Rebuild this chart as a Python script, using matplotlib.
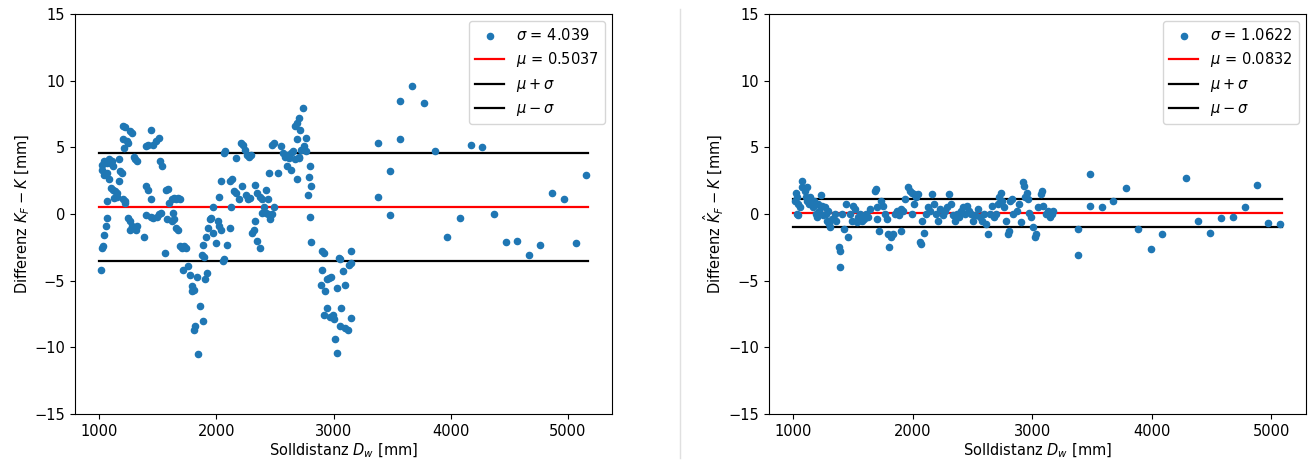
import numpy as np
import matplotlib
matplotlib.use("Agg")
import matplotlib.pyplot as plt
from matplotlib.lines import Line2D

# left panel: K_F - K
x_left = [1014, 1025, 1032, 1039, 1054, 1061, 1068, 1018, 1025, 1043, 1061, 1079, 1090, 1104, 1115,
          1043, 1061, 1079, 1097, 1115, 1132, 1150, 1125, 1150, 1168, 1179, 1193, 1168, 1204, 1215,
          1204, 1211, 1233, 1240, 1204, 1215, 1222, 1240, 1258, 1258, 1276, 1294, 1311, 1319, 1265,
          1276, 1294, 1304, 1319, 1383, 1401, 1419, 1437, 1401, 1437, 1401, 1419, 1455, 1483, 1508,
          1519, 1533, 1444, 1462, 1491, 1508, 1526, 1562, 1573, 1587, 1598, 1580, 1616, 1616, 1634,
          1652, 1670, 1687, 1627, 1641, 1655, 1670, 1687, 1705, 1723, 1741, 1716, 1759, 1777, 1788,
          1795, 1806, 1806, 1820, 1831, 1838, 1856, 1884, 1877, 1895, 1902, 1920, 1884, 1909, 1927,
          1945, 1956, 1967, 1974, 1992, 2010, 2020, 2035, 2020, 2038, 2056, 2063, 2063, 2074, 2092,
          2117, 2128, 2117, 2135, 2153, 2171, 2189, 2207, 2224, 2164, 2214, 2242, 2260, 2278, 2296,
          2250, 2271, 2289, 2307, 2321, 2332, 2350, 2368, 2332, 2350, 2368, 2386, 2404, 2421, 2439,
          2457, 2475, 2493, 2421, 2439, 2386, 2450, 2475, 2493, 2529, 2547, 2565, 2583, 2600, 2618,
          2636, 2654, 2600, 2636, 2672, 2690, 2708, 2690, 2708, 2672, 2690, 2708, 2715, 2736, 2726,
          2744, 2762, 2762, 2779, 2790, 2797, 2808, 2797, 2808, 2898, 2916, 2905, 2894, 2923, 2941,
          2958, 2976, 2916, 2941, 2966, 2994, 3005, 3012, 3030, 3030, 3048, 3059, 3066, 3059, 3084,
          3095, 3102, 3120, 3130, 3145, 3148, 3148,
          3380, 3380, 3480, 3480, 3570, 3570, 3670, 3770, 3870, 3970, 4080, 4170, 4270, 4370, 4470,
          4570, 4670, 4760, 4870, 4970, 5070, 5160]
y_left = [-4.2, -2.55, -2.4, -1.55, -0.9, -0.3, 0.95, 3.3, 3.7, 4.0, 3.8, 4.1, 3.8, 4.0, 3.6,
          2.95, 3.1, 2.6, 1.95, 1.8, 1.7, 1.6, 1.2, 1.3, 2.45, 3.2, 3.1, 4.1, 6.6, 6.5,
          5.6, 4.95, 5.45, 5.3, 1.1, 0.95, 0.8, -0.3, -0.55, -1.2, -0.9, -1.05, -1.2, -0.9, 6.2,
          6.1, 4.3, 4.1, 4.0, -1.75, 2.1, 1.8, 1.1, -0.1, 6.3, 5.1, 5.2, 5.2, 5.45, 5.7,
          3.95, 3.6, -0.2, -0.3, -0.2, 0.0, 0.1, -2.9, 1.8, 1.9, 0.8, -0.4, -0.55, 1.1, 1.2,
          1.1, 1.2, 1.1, 0.1, -0.4, -1.05, -1.2, -2.4, -2.55, -2.4, -2.55, -4.2, -3.9, -4.55, -5.4,
          -5.8, -5.7, -8.7, -8.4, -4.7, -10.5, -6.9, -8.05, -3.05, -3.2, -4.9, -4.4, -2.3, -1.7, -1.05,
          -0.4, -0.3, 0.55, -1.4, -2.2, -0.55, -0.9, -1.2, 1.3, 2.45, -3.55, -3.4, 4.6, 4.7, -2.3,
          -1.05, 0.55, 2.45, 2.6, 1.7, 1.6, 1.1, 5.3, 5.2, 4.2, 2.1, 4.8, 4.45, 4.3, 4.45,
          1.45, 1.1, 1.2, -1.4, -1.2, -0.55, -2.05, -2.55, 2.2, 1.6, 1.3, 1.1, 0.55, 0.1, 0.0,
          -0.4, 0.0, 0.55, 1.8, 1.1, 0.1, 3.1, 5.2, 5.3, 3.1, 5.1, 4.6, 4.3, 4.45, 4.2,
          4.6, 4.7, 3.6, 3.3, 4.1, 5.6, 4.2, 2.6, 4.3, 6.6, 6.8, 7.2, 6.3, 7.95, 4.8,
          5.1, 4.7, 5.7, 1.45, 2.8, 3.6, 2.1, -0.2, -2.1, -2.8, -2.9, -4.2, -5.3, -5.8, -4.9,
          -4.8, -4.7, -7.55, -7.05, -7.7, -7.55, -7.9, -9.4, -10.4, -5.55, -3.3, -3.4, -7.05, -8.4, -4.3,
          -5.3, -8.55, -8.7, -3.8, -3.7, -2.8, -7.8,
          5.3, 1.3, 3.2, -0.1, 8.45, 5.6, 9.6, 8.3, 4.7, -1.7, -0.3, 5.15, 5.0, 0.0, -2.1,
          -2.05, -3.1, -2.3, 1.6, 1.15, -2.2, 2.95]
mu_left, sigma_left = 0.5037, 4.039

# right panel: K_F hat - K
x_right = [1014, 1024, 1034, 1041, 1052, 1031, 1041, 1069, 1076, 1093, 1103, 1110, 1117, 1128, 1138,
           1145, 1162, 1172, 1186, 1197, 1207, 1214, 1228, 1241, 1248, 1266, 1276, 1283, 1293, 1300,
           1310, 1324, 1345, 1359, 1379, 1393, 1386, 1403, 1421, 1438, 1455, 1472, 1490, 1500, 1517,
           1531, 1541, 1559, 1576, 1593, 1610, 1628, 1645, 1679, 1690, 1697, 1703, 1714, 1731, 1748,
           1766, 1783, 1793, 1800, 1817, 1834, 1852, 1869, 1886, 1903, 1921, 1897, 1938, 1955, 1972,
           1990, 2007, 2024, 1990, 2007, 2041, 2059, 2069, 2093, 2076, 2110, 2128, 2145, 2162, 2179,
           2197, 2214, 2231, 2248, 2266, 2283, 2300, 2317, 2334, 2352, 2369, 2386, 2403, 2421, 2438,
           2455, 2472, 2490, 2507, 2524, 2541, 2559, 2576, 2593, 2610, 2628, 2645, 2662, 2679, 2697,
           2714, 2724, 2738, 2748, 2766, 2783, 2793, 2807, 2817, 2828, 2841, 2869, 2886, 2903, 2921,
           2931, 2938, 2955, 2966, 2972, 2990, 3007, 3024, 3034, 3048, 3069, 3083, 3093, 3110, 3128,
           3145, 3162, 3172,
           3386, 3386, 3483, 3483, 3583, 3679, 3783, 3886, 3990, 4086, 4283, 4386, 4483, 4583, 4679,
           4776, 4876, 4972, 5076]
y_right = [1.0, 1.6, 1.25, 0.75, 0.5, 0.0, -0.1, 2.5, 2.0, 1.75, 1.25, 2.0, 1.0, 0.75, 1.25,
           0.9, 0.5, 1.0, 0.0, -0.25, 0.75, 0.25, 1.4, 0.6, -0.1, 0.5, 0.0, -0.5, 0.25, -0.75,
           -1.0, -0.4, 0.0, -0.5, -2.5, -2.75, -4.0, 0.0, -1.1, 0.75, -1.75, 0.0, -0.5, 0.6, 0.4,
           -0.6, -0.25, 0.0, -0.5, -0.4, 0.0, -0.25, 0.4, 1.75, 1.9, 0.5, -0.4, -1.25, 1.0, 0.6,
           0.0, -0.4, -1.5, -2.5, -1.75, -1.5, 0.0, 0.25, -0.1, 0.4, 0.25, -1.25, 1.1, 2.0, 1.75,
           1.6, 1.5, 1.25, 0.0, 0.75, 1.5, -2.1, -2.25, -1.4, -0.5, 0.0, 0.5, 0.25, 1.5, 0.75,
           0.0, -0.5, 0.4, -0.1, 0.25, 0.5, 1.5, 0.75, -0.1, -0.5, 0.0, -0.25, 0.25, 0.5, 0.0,
           0.6, 0.25, 0.0, -0.5, -0.1, 0.4, -0.25, -0.5, 0.0, -0.75, -1.5, 0.0, 0.6, -0.25, 0.0,
           0.75, 1.25, 1.6, 1.0, 0.5, -0.5, -1.5, -1.25, 1.0, 1.1, 0.0, 0.25, 0.75, -0.6, 2.4,
           2.1, 1.25, 1.6, 1.1, 0.1, -0.25, -1.0, -1.75, -1.5, 0.5, 1.5, 1.75, 0.6, 0.0, 0.25,
           -0.25, 0.0, 0.25,
           -3.1, -1.1, 3.0, 0.6, 0.5, 1.0, 1.95, -1.1, -2.6, -1.5, 2.7, -0.5, -1.45, -0.3, -0.25,
           0.5, 2.2, -0.7, -0.75]
mu_right, sigma_right = 0.0832, 1.0622

W, H = 1309, 467
fig = plt.figure(figsize=(W / 100, H / 100), dpi=100)
fs = 10.5

ax1 = fig.add_axes([75 / W, 1 - 414 / H, 537 / W, 400 / H])
ax2 = fig.add_axes([769 / W, 1 - 414 / H, 537 / W, 400 / H])

panels = [(ax1, x_left, y_left, mu_left, sigma_left, '4.039', '0.5037', r'Differenz $K_F - K$ [mm]'),
          (ax2, x_right, y_right, mu_right, sigma_right, '1.0622', '0.0832', r'Differenz $\hat{K}_F - K$ [mm]')]

for ax, xs, ys, mu, sig, sig_txt, mu_txt, ylab in panels:
    xs = np.array(xs)
    ax.scatter(xs, ys, s=20, color='#1f77b4', label=r'$\sigma$ = ' + sig_txt, zorder=3)
    x0, x1 = 1000, xs.max() + 10
    ax.plot([x0, x1], [mu, mu], color='red', lw=1.6, label=r'$\mu$ = ' + mu_txt, zorder=2)
    ax.plot([x0, x1], [mu + sig, mu + sig], color='black', lw=1.6, label=r'$\mu+\sigma$', zorder=2)
    ax.plot([x0, x1], [mu - sig, mu - sig], color='black', lw=1.6, label=r'$\mu-\sigma$', zorder=2)
    ax.set_ylim(-15, 15)
    ax.set_yticks([-15, -10, -5, 0, 5, 10, 15])
    ax.set_xticks([1000, 2000, 3000, 4000, 5000])
    ax.tick_params(labelsize=fs)
    ax.set_xlabel(r'Solldistanz $D_w$ [mm]', fontsize=fs, labelpad=2)
    ax.set_ylabel(ylab, fontsize=fs, labelpad=2)
    ax.legend(loc='upper right', fontsize=fs, scatterpoints=1)

# thin separator between the two panels
fig.add_artist(Line2D([680 / W, 680 / W], [0.02, 0.98], color='#e0e0e0', lw=1))

fig.savefig('out.png', dpi=100)
